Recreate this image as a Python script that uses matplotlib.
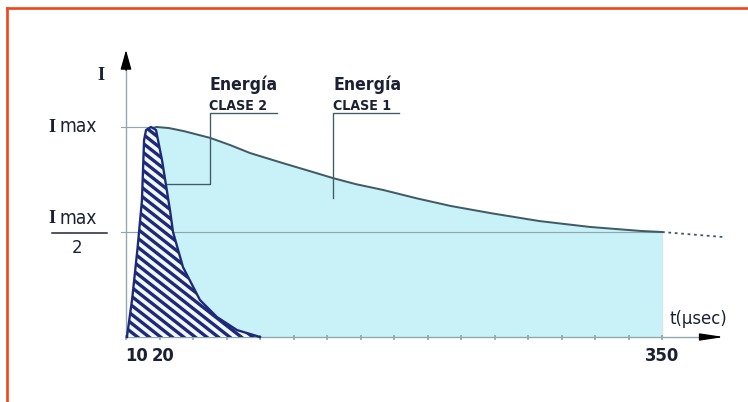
import matplotlib.pyplot as plt
import matplotlib.lines as lines
import numpy as np

# values: time in usec, current as a fraction of I max
t_clase1 = [0.6, 5, 9, 12, 14, 17, 20, 28, 38, 55, 68, 81, 102, 120, 135, 150, 168, 190,
            212, 238, 270, 303, 336, 350]
i_clase1 = [0.0, 0.20, 0.45, 0.75, 0.95, 0.995, 1.0, 0.995, 0.980, 0.948, 0.914, 0.876,
            0.829, 0.790, 0.757, 0.728, 0.700, 0.660, 0.624, 0.590, 0.552, 0.524, 0.505, 0.5]
t_tail = [350, 370, 390]
i_tail = [0.5, 0.488, 0.476]

t_clase2 = [0.6, 4, 7.5, 10.4, 11.8, 13.1, 16.3, 19.6, 22.2, 23.5, 28.7, 30.7, 37.2,
            48.3, 59.4, 72.5, 87.5]
i_clase2 = [0.0, 0.18, 0.42, 0.65, 0.938, 0.986, 1.0, 0.986, 0.89, 0.843, 0.605, 0.5,
            0.333, 0.176, 0.095, 0.033, 0.0]

tick_vals = [10, 20, 350]
tick_text = ["10", "20", "350"]
tick_shift = [-5, 6, 0]  # px, the labels 10 and 20 sit side by side

NARROW = ["Liberation Sans Narrow", "DejaVu Sans"]
SERIF = ["Liberation Serif", "DejaVu Serif"]
INK = "#1b2133"
GUIDE = "#8fa6ad"
CURVE = "#3f5c66"
NAVY = "#1d2a7a"
FILL = "#c9f2f8"

DPI = 120
fig = plt.figure(figsize=(748 / DPI, 402 / DPI), dpi=DPI)
ax = fig.add_axes([0, 0, 1, 1])
# pixel mapping: t=0 -> x 126, t=350 -> x 662 ; I=0 -> y 337, I=1 -> y 127
px_t = 536 / 350
px_i = 210
ax.set_xlim(-126 / px_t, (748 - 126) / px_t)
ax.set_ylim((337 - 402) / px_i, 337 / px_i)
ax.axis("off")

# class 1 energy (light blue area)
ax.fill_between(t_clase1, 0, i_clase1, color=FILL, lw=0, zorder=1)
ax.plot(t_clase1[5:], i_clase1[5:], color=CURVE, lw=1.2, zorder=3)
ax.plot(t_tail, i_tail, color=CURVE, lw=1.1, ls=(0, (1.5, 2)), zorder=3)
ax.plot([350, 350], [0, 0.5], color="#d8e6ea", lw=0.8, zorder=2)

# guide lines
ax.plot([-3, 350], [0.5, 0.5], color=GUIDE, lw=0.7, zorder=2)
ax.plot([-3, 17], [1.0, 1.0], color=GUIDE, lw=0.7, zorder=2)

# class 2 energy (striped pulse), stripes drawn by hand and clipped to the shape
pulse = ax.fill(t_clase2, i_clase2, facecolor="#f2f8fc", edgecolor="none", zorder=4)[0]
slope = np.tan(np.radians(38))  # stripe angle, pixels
period = 9 / px_i               # vertical spacing of stripes
tt = np.array([-5, 100])
for c in np.arange(0, 1.0 + 100 * px_t * slope / px_i, period):
    ax.plot(tt, c - tt * px_t * slope / px_i, color=NAVY, lw=2.0, zorder=5,
            clip_path=pulse, solid_capstyle="butt")
ax.plot(t_clase2, i_clase2, color=NAVY, lw=1.4, zorder=6)

# axes with arrows
ax.plot([0, 0], [0, 1.30], color=GUIDE, lw=0.8, zorder=2)
ax.annotate("", xy=(0, 1.367), xytext=(0, 1.27),
            arrowprops=dict(arrowstyle="-|>,head_length=1.0,head_width=0.28",
                            color="black", lw=0.8, shrinkA=0, shrinkB=0))
ax.plot([0, 375], [0, 0], color=GUIDE, lw=0.8, zorder=2)
ax.annotate("", xy=(390.5, 0), xytext=(375, 0),
            arrowprops=dict(arrowstyle="-|>,head_length=1.2,head_width=0.18",
                            color="black", lw=0.8, shrinkA=0, shrinkB=0))
minor = np.linspace(0, 350, 17)
ax.plot(minor, np.zeros_like(minor), ls="none", marker="|", ms=3, color=GUIDE, zorder=2)

txt = dict(family=NARROW, color=INK, fontstretch="condensed")

# x labels
for v, s, d in zip(tick_vals, tick_text, tick_shift):
    ax.annotate(s, xy=(v, -0.09), xytext=(d * 72 / DPI, 0), textcoords="offset points",
                ha="center", va="center", fontsize=11, fontweight="bold", **txt)
ax.text(354.6, 0.086, "t(\u00b5sec)", ha="left", va="center", fontsize=11, **txt)

# y labels
ax.text(-16.3, 1.243, "I", ha="center", va="center", fontsize=11, fontweight="bold",
        family=SERIF, color=INK)
for lev in [1.0, 0.562]:
    ax.text(-48.2, lev, "I", ha="center", va="center", fontsize=11, fontweight="bold",
            family=SERIF, color=INK)
    ax.text(-43.5, lev, "max", ha="left", va="center", fontsize=11.5, **txt)
ax.plot([-48.3, -12.4], [0.495, 0.495], color=INK, lw=0.9, clip_on=False)
ax.text(-32.0, 0.424, "2", ha="center", va="center", fontsize=11, **txt)

# leaders for the two labels
for x0, x1, cls, tail in [(54.2, 98.6, "CLASE 2", [(54.9, 0.729), (26.8, 0.729)]),
                          (135.2, 178.3, "CLASE 1", [(135.2, 0.662)])]:
    ax.text(x0, 1.176, "Energ\u00eda", ha="left", va="baseline", fontsize=10.5,
            fontweight="bold", **txt)
    ax.text(x0, 1.081, cls, ha="left", va="baseline", fontsize=8.5,
            fontweight="bold", **txt)
    xs = [x1, tail[0][0]] + [p[0] for p in tail]
    ys = [1.067, 1.067] + [p[1] for p in tail]
    ax.plot(xs, ys, color=CURVE, lw=0.8, zorder=7)

# orange frame on top and left
fig.add_artist(lines.Line2D([7 / 748, 1], [1 - 8 / 402, 1 - 8 / 402], color="#f0461c", lw=1.6))
fig.add_artist(lines.Line2D([7 / 748, 7 / 748], [0, 1 - 8 / 402], color="#f0461c", lw=1.6))

fig.savefig("out.png", dpi=DPI, facecolor="white")
